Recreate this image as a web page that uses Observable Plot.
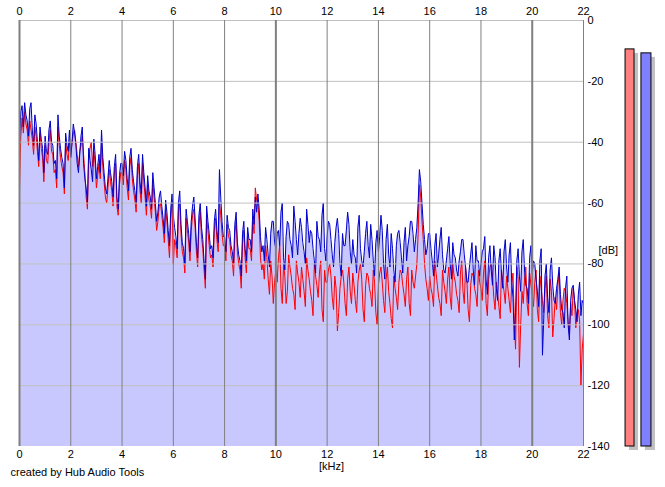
<!DOCTYPE html>
<html><head><meta charset="utf-8">
<script src="https://cdn.jsdelivr.net/npm/d3@7"></script>
<script src="https://cdn.jsdelivr.net/npm/@observablehq/plot@0.6"></script>
<style>body{margin:0;background:#fff;} svg{display:block}</style>
</head><body><div id="chart"></div>
<script>
const kHzTicks = [0, 2, 4, 6, 8, 10, 12, 14, 16, 18, 20, 22];
const dBTicks = [0, -20, -40, -60, -80, -100, -120, -140];
const freqStepKHz = 0.05;

// left channel (red), dB, every 0.05 kHz from 0 to 22 kHz (one row per kHz)
const redDB = [
  -56,-38,-32,-37,-30,-34,-36,-41,-33,-36,-39,-44,-35,-38,-43,-48,-37,-42,-45,-53,
  -41,-46,-47,-40,-36,-43,-44,-50,-49,-55,-35,-41,-45,-48,-50,-57,-40,-44,-46,-40,
  -44,-40,-37,-36,-40,-44,-48,-43,-41,-38,-44,-50,-58,-62,-45,-42,-40,-48,-43,-47,
  -55,-51,-47,-52,-40,-48,-53,-58,-60,-55,-49,-53,-56,-61,-50,-47,-61,-64,-54,-50,
  -50,-54,-46,-49,-55,-59,-48,-45,-52,-56,-59,-63,-51,-47,-56,-60,-47,-53,-58,-64,
  -54,-59,-61,-65,-53,-58,-63,-69,-66,-61,-60,-64,-68,-73,-62,-66,-72,-78,-65,-60,
  -80,-72,-74,-78,-63,-60,-70,-76,-78,-83,-65,-69,-73,-79,-69,-64,-62,-68,-76,-81,
  -67,-63,-71,-75,-82,-88,-65,-69,-74,-78,-77,-81,-69,-65,-72,-76,-60,-64,-70,-74,
  -74,-79,-67,-71,-72,-77,-79,-84,-70,-66,-76,-80,-82,-88,-73,-69,-78,-83,-71,-75,
  -75,-79,-66,-70,-55,-59,-60,-66,-78,-82,-80,-85,-74,-78,-85,-90,-79,-84,-93,-86,
  -82,-86,-78,-74,-88,-93,-80,-84,-93,-89,-77,-81,-84,-88,-90,-95,-79,-83,-86,-91,
  -81,-85,-89,-94,-78,-82,-85,-89,-92,-97,-80,-84,-87,-91,-83,-79,-95,-99,-82,-86,
  -86,-82,-80,-84,-91,-95,-84,-88,-102,-96,-88,-84,-82,-86,-93,-97,-85,-81,-89,-93,
  -83,-87,-92,-96,-86,-82,-80,-85,-95,-99,-87,-83,-84,-88,-90,-94,-82,-86,-96,-100,
  -87,-83,-81,-86,-92,-96,-85,-81,-89,-93,-98,-101,-84,-88,-91,-95,-86,-82,-83,-87,
  -90,-94,-85,-81,-93,-97,-82,-86,-88,-84,-80,-70,-54,-58,-66,-72,-80,-85,-88,-92,
  -84,-88,-90,-94,-79,-83,-87,-91,-93,-97,-82,-86,-89,-93,-85,-81,-91,-95,-80,-84,
  -86,-90,-92,-96,-83,-79,-89,-93,-81,-85,-95,-99,-87,-83,-84,-88,-90,-94,-82,-86,
  -88,-92,-83,-79,-93,-97,-85,-81,-80,-84,-91,-95,-86,-90,-94,-98,-82,-86,-89,-93,
  -84,-88,-92,-96,-87,-83,-98,-108,-81,-85,-114,-100,-89,-93,-85,-81,-93,-97,-83,-87,
  -90,-94,-86,-82,-95,-99,-84,-88,-92,-96,-88,-84,-97,-101,-85,-89,-104,-98,-91,-95,
  -87,-83,-96,-100,-92,-88,-89,-93,-99,-103,-93,-97,-88,-92,-101,-96,-95,-99,-120,-108,
  -103
];

// right channel (blue), dB
const blueDB = [
  -40,-30,-28,-35,-27,-31,-33,-38,-29,-27,-36,-41,-31,-34,-40,-46,-35,-39,-42,-50,
  -38,-43,-44,-36,-33,-40,-41,-47,-46,-52,-31,-38,-42,-45,-47,-55,-37,-41,-43,-36,
  -45,-40,-34,-37,-41,-47,-50,-44,-38,-35,-47,-52,-55,-60,-42,-46,-49,-53,-39,-44,
  -52,-48,-44,-50,-36,-45,-50,-55,-57,-52,-46,-50,-53,-58,-48,-44,-58,-62,-51,-47,
  -47,-51,-43,-46,-52,-56,-45,-42,-49,-53,-56,-60,-48,-44,-53,-57,-44,-50,-55,-61,
  -51,-56,-58,-62,-50,-55,-60,-66,-63,-58,-56,-61,-65,-70,-59,-63,-69,-74,-62,-57,
  -64,-68,-71,-75,-60,-56,-67,-73,-75,-80,-62,-66,-70,-76,-66,-61,-58,-65,-73,-78,
  -64,-60,-68,-72,-79,-85,-61,-66,-70,-75,-74,-78,-66,-62,-69,-73,-49,-58,-66,-71,
  -71,-76,-64,-68,-69,-74,-76,-80,-67,-63,-73,-77,-79,-84,-70,-66,-75,-79,-68,-72,
  -72,-76,-62,-67,-58,-63,-57,-62,-71,-76,-74,-79,-68,-72,-77,-81,-70,-66,-66,-73,
  -75,-70,-69,-74,-63,-60,-78,-82,-71,-66,-67,-72,-74,-78,-61,-66,-72,-77,-70,-65,
  -68,-73,-76,-80,-62,-67,-73,-69,-70,-75,-79,-83,-66,-71,-72,-76,-64,-60,-75,-79,
  -71,-66,-67,-72,-77,-81,-73,-68,-65,-70,-80,-84,-70,-74,-74,-69,-63,-67,-76,-80,
  -72,-77,-78,-83,-68,-64,-75,-79,-81,-76,-70,-66,-74,-78,-67,-72,-79,-84,-73,-69,
  -76,-71,-64,-69,-80,-85,-72,-67,-77,-81,-70,-75,-82,-86,-74,-70,-69,-73,-78,-83,
  -73,-68,-79,-74,-71,-66,-66,-70,-76,-72,-68,-60,-49,-53,-60,-67,-72,-77,-75,-70,
  -70,-75,-79,-84,-74,-70,-81,-77,-72,-68,-77,-82,-83,-79,-75,-71,-80,-85,-73,-77,
  -78,-82,-84,-79,-76,-72,-72,-77,-81,-86,-86,-81,-77,-73,-82,-87,-74,-79,-79,-84,
  -80,-76,-75,-71,-85,-90,-78,-74,-82,-87,-74,-78,-88,-92,-79,-75,-83,-88,-76,-72,
  -81,-86,-77,-73,-86,-91,-105,-96,-79,-75,-84,-89,-76,-72,-82,-87,-88,-93,-78,-74,
  -83,-79,-80,-85,-89,-94,-79,-75,-110,-98,-84,-80,-91,-96,-82,-78,-87,-92,-93,-88,
  -85,-81,-90,-95,-96,-101,-88,-84,-100,-105,-92,-88,-87,-92,-95,-99,-90,-86,-97,-92,
  -93
];

// level meters (left = red, right = blue), dB
const meterNames = ["L", "R"];
const meterLevels = [-9.5, -10.8];

const rows = redDB.map((r, i) => ({
  f: i * freqStepKHz,
  red: r,
  blue: blueDB[i],
  top: Math.max(r, blueDB[i])
}));

const meterX = [[23.64, 23.99], [24.26, 24.65]];
const meterFill = ["#ff8080", "#8080ff"];
const meters = meterNames.map((n, i) => ({
  name: n, level: meterLevels[i], x1: meterX[i][0], x2: meterX[i][1], fill: meterFill[i]
}));

const font = "Arial, 'Liberation Sans', sans-serif";

const chart = Plot.plot({
  width: 665,
  height: 487,
  marginLeft: 19,
  marginRight: 82,
  marginTop: 20,
  marginBottom: 41,
  style: {fontFamily: font, fontSize: "11px", color: "#000", background: "#fff"},
  x: {domain: [0, 22], axis: null},
  y: {domain: [-140, 0], axis: null},
  marks: [
    Plot.areaY(rows, {x: "f", y1: () => -140, y2: "top", fill: "#c8c8ff", curve: "linear"}),
    Plot.line(rows, {x: "f", y: "red", stroke: "#ff0000", strokeWidth: 1}),
    Plot.line(rows, {x: "f", y: "blue", stroke: "#0000cc", strokeWidth: 1}),
    Plot.ruleY(dBTicks.filter(d => d > -140), {stroke: "#c0c0c0", strokeWidth: 1}),
    Plot.ruleX(kHzTicks, {stroke: "#808080", strokeWidth: d => (d % 10 === 0 ? 2 : 1)}),
    Plot.rect(meters, {x1: "x1", x2: "x2", y1: () => -140, y2: "level", fill: "#c0c0c0", dx: 4, dy: 4}),
    Plot.rect(meters, {x1: "x1", x2: "x2", y1: () => -140, y2: "level", fill: "fill", stroke: "#000", strokeWidth: 1}),
    Plot.axisX(kHzTicks, {anchor: "top", tickSize: 0, tickPadding: 6, tickFormat: d => String(d)}),
    Plot.axisX(kHzTicks, {anchor: "bottom", tickSize: 0, tickPadding: 4, tickFormat: d => String(d)}),
    Plot.axisY(dBTicks, {anchor: "right", tickSize: 0, tickPadding: 4, tickFormat: d => String(d)}),
    Plot.text(["[kHz]"], {frameAnchor: "bottom", dx: 30, dy: 23, fill: "#000"}),
    Plot.text(["[dB]"], {frameAnchor: "right", dx: 15, dy: 17, textAnchor: "start", fill: "#000"}),
    Plot.text(["created by Hub Audio Tools"], {frameAnchor: "bottom-left", dx: -9, dy: 29, textAnchor: "start", fill: "#000"})
  ]
});
document.getElementById("chart").appendChild(chart);
</script>
</body></html>
